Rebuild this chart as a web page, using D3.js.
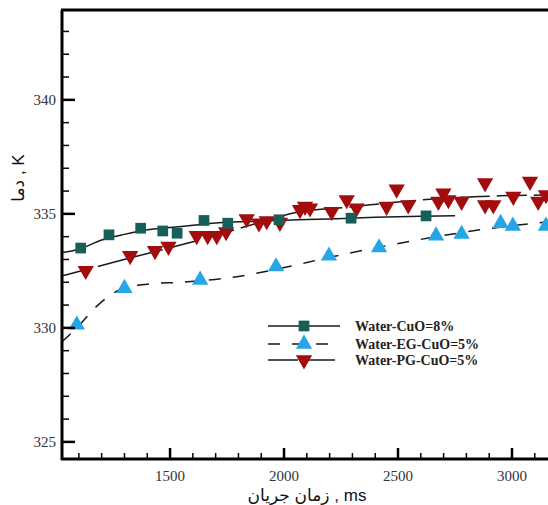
<!DOCTYPE html>
<html><head><meta charset="utf-8">
<script src="https://cdn.jsdelivr.net/npm/d3@7"></script>
<style>body{margin:0;background:#fff}svg{display:block}
.serif{font-family:"Liberation Serif","DejaVu Serif","Times New Roman",serif}
.sans{font-family:"Liberation Sans",Arial,"DejaVu Sans",sans-serif}
</style>
</head><body>
<svg id="c" width="548" height="505"></svg>
<script>
// ---- data ----
const seriesNames = ["Water-CuO=8%", "Water-EG-CuO=5%", "Water-PG-CuO=5%"];
const xTicks = [1500, 2000, 2500, 3000];
const yTicks = [325, 330, 335, 340];

const cuoLine = [[1026,333.3],[1100,333.45],[1200,333.85],[1300,334.1],[1400,334.3],[1500,334.4],[1600,334.5],[1700,334.6],[1800,334.65],[2000,334.72],[2200,334.78],[2400,334.85],[2600,334.9],[2750,334.92]];
const cuoPts = [[1108,333.5],[1232,334.08],[1371,334.37],[1468,334.25],[1531,334.15],[1649,334.71],[1753,334.59],[1978,334.74],[2294,334.81],[2623,334.91]];

const egLine = [[1026,329.39],[1100,330.1],[1171,330.88],[1281,331.67],[1412,331.93],[1544,332.0],[1763,332.2],[1982,332.6],[2202,333.1],[2421,333.55],[2640,333.95],[2860,334.3],[3158,334.65]];
const egPts = [[1091,330.13],[1300,331.74],[1632,332.1],[1965,332.69],[2197,333.16],[2417,333.52],[2667,334.04],[2779,334.11],[2950,334.59],[3004,334.47],[3149,334.47]];

const pgLine = [[1026,332.28],[1326,333.07],[1632,333.86],[1851,334.5],[2070,335.09],[2289,335.3],[2509,335.53],[2728,335.7],[2947,335.79],[3158,335.83]];
const pgPts = [[1130,332.51],[1325,333.16],[1434,333.38],[1493,333.57],[1617,334.04],[1665,334.04],[1705,334.04],[1746,334.21],[1836,334.78],[1890,334.59],[1924,334.69],[1982,334.62],[2070,335.18],[2092,335.32],[2114,335.25],[2209,335.1],[2275,335.61],[2318,335.25],[2450,335.32],[2494,336.08],[2545,335.39],[2677,335.54],[2699,335.91],[2721,335.61],[2779,335.54],[2882,336.35],[2882,335.39],[2918,335.39],[3006,335.76],[3079,336.42],[3115,335.54],[3149,335.83]];

// ---- layout ----
const svg = d3.select("#c");
const L = 62, R = 548, T = 10, B = 459;
const x = d3.scaleLinear().domain([1026, 3158]).range([L, R]);
const y = d3.scaleLinear().domain([324.25, 343.94]).range([B, T]);

const colors = {cuo:"#17605a", eg:"#27a6e6", pg:"#a20c0c"};

svg.append("defs").append("clipPath").attr("id","clip")
  .append("rect").attr("x",L).attr("y",T).attr("width",R-L).attr("height",B-T);

const g = svg.append("g").attr("clip-path","url(#clip)");
const line = d3.line().x(d=>x(d[0])).y(d=>y(d[1])).curve(d3.curveMonotoneX);

g.append("path").datum(cuoLine).attr("d",line).attr("fill","none").attr("stroke","#1a1a1a").attr("stroke-width",1.5);
g.append("path").datum(egLine).attr("d",line).attr("fill","none").attr("stroke","#1a1a1a").attr("stroke-width",1.5).attr("stroke-dasharray","12,12");
g.append("path").datum(pgLine).attr("d",line).attr("fill","none").attr("stroke","#1a1a1a").attr("stroke-width",1.5).attr("stroke-dasharray","30,7");

const sq = d3.symbol().type(d3.symbolSquare).size(115);
const tri = d3.symbol().type(d3.symbolTriangle).size(115);

g.selectAll(".eg").data(egPts).join("path").attr("class","eg").attr("d",tri)
  .attr("transform",d=>`translate(${x(d[0])},${y(d[1])})`).attr("fill",colors.eg);
g.selectAll(".pg").data(pgPts).join("path").attr("class","pg").attr("d",tri)
  .attr("transform",d=>`translate(${x(d[0])},${y(d[1])}) rotate(180)`).attr("fill",colors.pg);
g.selectAll(".cuo").data(cuoPts).join("path").attr("class","cuo").attr("d",sq)
  .attr("transform",d=>`translate(${x(d[0])},${y(d[1])})`).attr("fill",colors.cuo);

// ---- axes ----
const ax = svg.append("g");
ax.append("line").attr("x1",L).attr("x2",L).attr("y1",T).attr("y2",B+1).attr("stroke","#000").attr("stroke-width",3);
ax.append("line").attr("x1",L-1).attr("x2",R).attr("y1",B).attr("y2",B).attr("stroke","#000").attr("stroke-width",3);
ax.append("line").attr("x1",L-1).attr("x2",R).attr("y1",T).attr("y2",T).attr("stroke","#000").attr("stroke-width",3);

const yMinor = d3.range(325, 344, 1);
ax.selectAll(".ymin").data(yMinor).join("line").attr("x1",L).attr("x2",d=>L+(d%5===0?13:7))
  .attr("y1",d=>y(d)).attr("y2",d=>y(d)).attr("stroke","#000").attr("stroke-width",d=>d%5===0?2.5:1.5);
const xMinor = d3.range(1100, 3200, 100);
ax.selectAll(".xmin").data(xMinor).join("line").attr("y1",B).attr("y2",d=>B-(d%500===0?11:6))
  .attr("x1",d=>x(d)).attr("x2",d=>x(d)).attr("stroke","#000").attr("stroke-width",d=>d%500===0?2.5:1.5);

ax.selectAll(".yl").data(yTicks).join("text").attr("class","serif").attr("x",56).attr("y",d=>y(d)+5)
  .attr("text-anchor","end").attr("font-size",15).attr("fill","#333").text(d=>d);
ax.selectAll(".xl").data(xTicks).join("text").attr("class","serif").attr("x",d=>x(d)).attr("y",481)
  .attr("text-anchor","middle").attr("font-size",15).attr("fill","#333").text(d=>d);

svg.append("text").attr("class","sans").attr("x",307).attr("y",501).attr("text-anchor","middle")
  .attr("font-size",17).attr("fill","#111").text("زمان جريان , ms");
svg.append("text").attr("class","sans").attr("transform","translate(24,178) rotate(-90)").attr("text-anchor","middle")
  .attr("font-size",17).attr("fill","#111").text("دما , K");

// ---- legend ----
const leg = svg.append("g");
const legRows = [
  {name:seriesNames[0], y:326, dash:null, sym:sq, col:colors.cuo, rot:0},
  {name:seriesNames[1], y:344, dash:"12,12", sym:tri, col:colors.eg, rot:0},
  {name:seriesNames[2], y:360, dash:"30,7", sym:tri, col:colors.pg, rot:180}
];
legRows.forEach(r=>{
  leg.append("line").attr("x1",268).attr("x2",340).attr("y1",r.y).attr("y2",r.y)
    .attr("stroke","#1a1a1a").attr("stroke-width",1.5).attr("stroke-dasharray",r.dash);
  leg.append("path").attr("d",r.sym).attr("fill",r.col).attr("transform",`translate(304,${r.y}) rotate(${r.rot})`);
  leg.append("text").attr("class","serif").attr("x",355).attr("y",r.y+5)
    .attr("font-weight","bold").attr("font-size",14).attr("fill","#222").text(r.name);
});
</script>
</body></html>
